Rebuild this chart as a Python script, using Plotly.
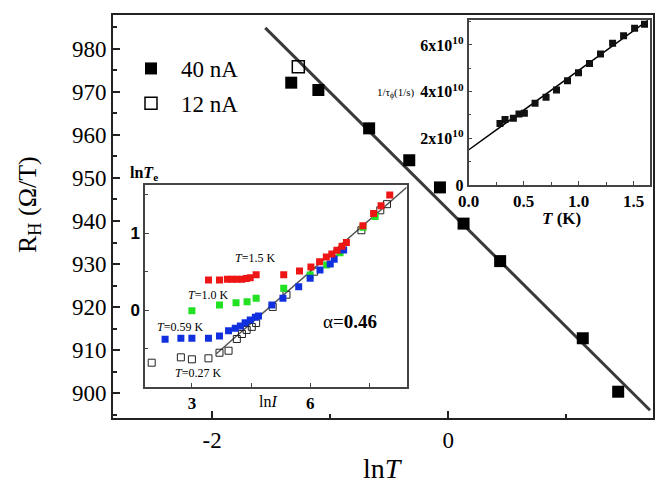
import plotly.graph_objects as go

W, H = 659, 486

# ---------------- data ----------------
# main panel: R_H vs lnT
main_lnT_40 = [-1.33, -1.10, -0.67, -0.33, -0.07, 0.13, 0.44, 1.14, 1.44]
main_R_40 = [972.1, 970.4, 961.5, 954.1, 947.8, 939.4, 930.7, 912.8, 900.4]
main_lnT_12 = [-1.27]
main_R_12 = [975.8]
main_fit_lnT = [-1.55, 1.71]
main_fit_R = [984.8, 896.1]
main_yticks = [900, 910, 920, 930, 940, 950, 960, 970, 980]
main_xticks = [-2, 0]
main_xticklabels = ["-2", "0"]

# upper-right inset: 1/tau_phi vs T  (units of 1e10 1/s)
ins1_T = [0.286, 0.332, 0.408, 0.459, 0.508, 0.605, 0.705, 0.80, 0.90, 1.0,
          1.10, 1.20, 1.31, 1.41, 1.51, 1.60]
ins1_rate = [2.64, 2.81, 2.86, 3.04, 3.07, 3.50, 3.76, 4.07, 4.47, 4.81,
             5.21, 5.61, 6.07, 6.39, 6.72, 6.89]
ins1_fit_T = [0.0, 1.63]
ins1_fit_rate = [1.5, 7.05]
ins1_xticks = [0.0, 0.5, 1.0, 1.5]
ins1_xticklabels = ["0.0", "0.5", "1.0", "1.5"]
ins1_yticks = [0, 2, 4, 6]
ins1_yticklabels = ["0", "2x10<sup>10</sup>", "4x10<sup>10</sup>", "6x10<sup>10</sup>"]

# lower-left inset: lnTe vs lnI
red_lnI = [3.42, 3.70, 3.90, 4.02, 4.14, 4.27, 4.38, 4.48, 4.63, 5.33, 5.73, 6.02,
           6.24, 6.41, 6.55, 6.68, 6.81, 6.92, 7.34, 7.61, 7.80, 8.02]
red_lnTe = [0.39, 0.39, 0.40, 0.40, 0.40, 0.40, 0.41, 0.42, 0.46, 0.46, 0.51, 0.56,
            0.63, 0.69, 0.73, 0.78, 0.83, 0.88, 1.10, 1.26, 1.36, 1.50]
green_lnI = [3.0, 3.70, 4.12, 4.40, 4.63, 5.33, 6.0, 6.42, 6.76, 7.34, 7.65]
green_lnTe = [-0.01, 0.065, 0.095, 0.108, 0.152, 0.283, 0.457, 0.587, 0.748, 1.08, 1.22]
blue_lnI = [2.32, 2.72, 3.0, 3.42, 3.70, 3.93, 4.10, 4.23, 4.35, 4.48, 4.61, 4.69,
            5.03, 5.31, 5.71, 6.0, 6.25, 6.51, 6.61, 6.85]
blue_lnTe = [-0.382, -0.369, -0.369, -0.369, -0.339, -0.270, -0.239, -0.209, -0.165,
             -0.130, -0.095, -0.078, 0.065, 0.152, 0.304, 0.413, 0.522, 0.60, 0.661, 0.783]
open_lnI = [1.98, 2.72, 3.0, 3.42, 3.70, 3.93, 4.14, 4.27, 4.39, 4.52, 4.63, 5.05,
            5.4, 6.1, 6.7, 7.3, 7.78, 7.95]
open_lnTe = [-0.687, -0.617, -0.643, -0.630, -0.557, -0.531, -0.378, -0.313, -0.26,
             -0.22, -0.17, 0.04, 0.2, 0.5, 0.76, 1.04, 1.30, 1.38]
ins2_fit_lnI = [3.62, 8.45]
ins2_fit_lnTe = [-0.57, 1.60]
ins2_xticks = [3, 4.5, 6, 7.5]
ins2_xticklabels = ["3", " ", "6", " "]
ins2_yticks = [0, 1]

SERIF = "Liberation Serif, Times New Roman, serif"
SANS = "Liberation Sans, Arial, sans-serif"


def px(x):
    return x / W


def py(y):
    return 1 - y / H


fig = go.Figure()

# ---- main panel ----
fig.add_trace(go.Scatter(x=main_fit_lnT, y=main_fit_R, mode="lines",
                         line=dict(color="#3a3a3a", width=3), showlegend=False,
                         xaxis="x", yaxis="y"))
fig.add_trace(go.Scatter(x=main_lnT_40, y=main_R_40, mode="markers", name="40 nA",
                         marker=dict(symbol="square", size=12, color="black"),
                         xaxis="x", yaxis="y", legendgroup="a"))
fig.add_trace(go.Scatter(x=main_lnT_12, y=main_R_12, mode="markers", name="12 nA",
                         marker=dict(symbol="square-open", size=12, color="black",
                                     line=dict(width=1.5)),
                         xaxis="x", yaxis="y", legendgroup="b"))

# ---- inset 1 ----
fig.add_trace(go.Scatter(x=ins1_fit_T, y=ins1_fit_rate, mode="lines",
                         line=dict(color="black", width=1.5), showlegend=False,
                         xaxis="x2", yaxis="y2"))
fig.add_trace(go.Scatter(x=ins1_T, y=ins1_rate, mode="markers",
                         marker=dict(symbol="square", size=7, color="#111"),
                         showlegend=False, xaxis="x2", yaxis="y2"))

# ---- inset 2 ----
fig.add_trace(go.Scatter(x=ins2_fit_lnI, y=ins2_fit_lnTe, mode="lines",
                         line=dict(color="#555", width=1.5), showlegend=False,
                         xaxis="x3", yaxis="y3"))
fig.add_trace(go.Scatter(x=open_lnI, y=open_lnTe, mode="markers",
                         marker=dict(symbol="square-open", size=7, color="#222",
                                     line=dict(width=1)),
                         showlegend=False, xaxis="x3", yaxis="y3"))
fig.add_trace(go.Scatter(x=green_lnI, y=green_lnTe, mode="markers",
                         marker=dict(symbol="square", size=7, color="#22e022"),
                         showlegend=False, xaxis="x3", yaxis="y3"))
fig.add_trace(go.Scatter(x=blue_lnI, y=blue_lnTe, mode="markers",
                         marker=dict(symbol="square", size=7, color="#1030e0"),
                         showlegend=False, xaxis="x3", yaxis="y3"))
fig.add_trace(go.Scatter(x=red_lnI, y=red_lnTe, mode="markers",
                         marker=dict(symbol="square", size=7, color="#ee1515"),
                         showlegend=False, xaxis="x3", yaxis="y3"))

axline = dict(showline=True, linecolor="#222", mirror=True, showgrid=False,
              zeroline=False, automargin=False)

fig.update_layout(
    width=W, height=H,
    margin=dict(l=0, r=0, t=0, b=0),
    paper_bgcolor="white", plot_bgcolor="white",
    font=dict(family=SERIF, color="black"),
    showlegend=True,
    legend=dict(x=px(121), y=py(47), xanchor="left", yanchor="top",
                font=dict(family=SERIF, size=23), bgcolor="rgba(0,0,0,0)",
                tracegroupgap=2, itemwidth=50, itemsizing="trace"),
    xaxis=dict(axline, domain=[px(113), px(653)], range=[-2.84, 1.735],
               linewidth=2, tickvals=main_xticks, ticktext=main_xticklabels,
               ticks="inside", ticklen=7,
               tickwidth=1.5, tickcolor="#222",
               minor=dict(dtick=1, ticks="inside", ticklen=4, tickcolor="#222"),
               tickfont=dict(family=SERIF, size=23), anchor="y"),
    yaxis=dict(axline, domain=[py(418), py(15)], range=[894.3, 987.8],
               linewidth=2, tickvals=main_yticks, ticks="inside", ticklen=7,
               tickwidth=1.5, tickcolor="#222",
               minor=dict(dtick=5, ticks="inside", ticklen=4, tickcolor="#222"),
               tickfont=dict(family=SERIF, size=23), anchor="x"),
    xaxis2=dict(axline, domain=[px(468.5), px(650)], range=[0, 1.65],
                linewidth=1.5, linecolor="#444",
                tickvals=ins1_xticks, ticktext=["<b>%s</b>" % t for t in ins1_xticklabels],
                ticks="inside", ticklen=4, tickcolor="#444",
                minor=dict(dtick=0.25, ticks="inside", ticklen=3, tickcolor="#444"),
                tickfont=dict(family=SERIF, size=17), anchor="y2"),
    yaxis2=dict(axline, domain=[py(185), py(20)], range=[0, 7.07],
                linewidth=1.5, linecolor="#444",
                tickvals=ins1_yticks, ticktext=["<b>%s</b>" % t for t in ins1_yticklabels],
                ticks="inside", ticklen=4, tickcolor="#444",
                minor=dict(dtick=1, ticks="inside", ticklen=3, tickcolor="#444"),
                tickfont=dict(family=SERIF, size=16), anchor="x2"),
    xaxis3=dict(axline, domain=[px(145), px(406.7)], range=[1.81, 8.45],
                linewidth=1.5, linecolor="#444",
                tickvals=ins2_xticks, ticktext=["<b>%s</b>" % t for t in ins2_xticklabels],
                ticks="inside", ticklen=4, tickcolor="#444",
                tickfont=dict(family=SERIF, size=17), anchor="y3"),
    yaxis3=dict(axline, domain=[py(386.7), py(185)], range=[-1.0, 1.63],
                linewidth=1.5, linecolor="#444",
                tickvals=ins2_yticks, ticktext=["<b>%d</b>" % t for t in ins2_yticks],
                ticks="inside", ticklen=4, tickcolor="#444",
                minor=dict(dtick=0.5, ticks="inside", ticklen=3, tickcolor="#444"),
                tickfont=dict(family=SANS, size=17), anchor="x3"),
)


def label(text, x, y, size, family=SERIF, xanchor="center", **kw):
    return dict(text=text, x=px(x), y=py(y), xref="paper", yref="paper",
                xanchor=xanchor, yanchor="middle", showarrow=False,
                font=dict(family=family, size=size), **kw)


ann = [
    # main axis titles
    label("ln<i>T</i>", 383, 468, 28),
    label("R<sub>H</sub> (Ω/T)", 29, 205, 26, textangle=-90),
    # inset 1 titles
    label("<b><i>T</i> (K)</b>", 561, 218, 17),
    label("1/τ<sub>ϕ</sub>(1/s)", 417, 93, 11, xanchor="right"),
    # inset 2 titles and labels
    label("<b>ln<i>T</i><sub>e</sub></b>", 144, 173, 16),
    label("ln<i>I</i>", 268, 401, 16),
    label("<i>T</i>=1.5 K", 255, 258, 12),
    label("<i>T</i>=1.0 K", 208, 295, 12),
    label("<i>T</i>=0.59 K", 180, 327, 12),
    label("<i>T</i>=0.27 K", 198, 373, 12),
    label("α=<b>0.46</b>", 350, 321, 19),
]
fig.update_layout(annotations=ann)

fig.write_html("out.html")
